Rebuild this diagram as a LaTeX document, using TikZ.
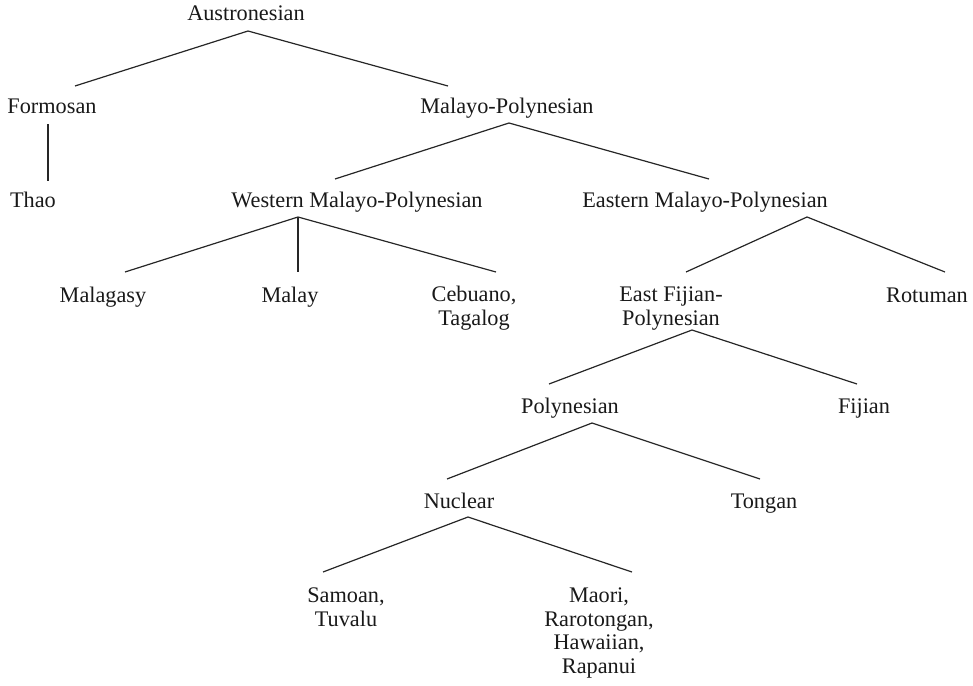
\documentclass[tikz,border=0pt]{standalone}
\usepackage{fontspec}
\setmainfont{Liberation Serif}
\begin{document}
\begin{tikzpicture}[x=0.75pt,y=-0.75pt,
  lang/.style={anchor=base,inner sep=0pt,align=center,text=black!90,
    font=\fontsize{16.7pt}{17.6pt}\selectfont},
  branch/.style={draw=black!85,line width=0.9pt}]
\useasboundingbox (0,0) rectangle (973,685);

% language names (multi-line names are placed by their last baseline)
\node[lang] (austr) at (246,21) {Austronesian};
\node[lang] (form)  at (52,113) {Formosan};
\node[lang] (mp)    at (507,113) {Malayo-Polynesian};
\node[lang] (thao)  at (33,207) {Thao};
\node[lang] (wmp)   at (357,207) {Western Malayo-Polynesian};
\node[lang] (emp)   at (705,207) {Eastern Malayo-Polynesian};
\node[lang] (mlg)   at (103,302) {Malagasy};
\node[lang] (malay) at (290,302) {Malay};
\node[lang] (ceb)   at (474,325) {Cebuano,\\Tagalog};
\node[lang] (efp)   at (671,325) {East Fijian-\\Polynesian};
\node[lang] (rot)   at (927,302) {Rotuman};
\node[lang] (poly)  at (570,413) {Polynesian};
\node[lang] (fij)   at (864,413) {Fijian};
\node[lang] (nuc)   at (459,508) {Nuclear};
\node[lang] (ton)   at (764,508) {Tongan};
\node[lang] (sam)   at (346,626) {Samoan,\\Tuvalu};
\node[lang] (mao)   at (599,673) {Maori,\\Rarotongan,\\Hawaiian,\\Rapanui};

% branch points under each parent and tops of the children
\coordinate (austr-b) at (248,31);
\coordinate (form-t)  at (75,86);
\coordinate (mp-t)    at (448,86);
\coordinate (form-b)  at (48,124);
\coordinate (thao-t)  at (48,181);
\coordinate (mp-b)    at (509,123);
\coordinate (wmp-t)   at (335,179);
\coordinate (emp-t)   at (709,179);
\coordinate (wmp-b)   at (298,217);
\coordinate (mlg-t)   at (125,272);
\coordinate (malay-t) at (298,272);
\coordinate (ceb-t)   at (496,272);
\coordinate (emp-b)   at (807,217);
\coordinate (efp-t)   at (686,272);
\coordinate (rot-t)   at (945,272);
\coordinate (efp-b)   at (692,330);
\coordinate (poly-t)  at (549,384);
\coordinate (fij-t)   at (857,384);
\coordinate (poly-b)  at (592,423);
\coordinate (nuc-t)   at (447,479);
\coordinate (ton-t)   at (760,479);
\coordinate (nuc-b)   at (468,517);
\coordinate (sam-t)   at (323,572);
\coordinate (mao-t)   at (632,572);

% tree branches
\draw[branch] (form-t) -- (austr-b) -- (mp-t);
\draw[branch] (form-b) -- (thao-t);
\draw[branch] (wmp-t) -- (mp-b) -- (emp-t);
\draw[branch] (mlg-t) -- (wmp-b) -- (ceb-t);
\draw[branch] (wmp-b) -- (malay-t);
\draw[branch] (efp-t) -- (emp-b) -- (rot-t);
\draw[branch] (poly-t) -- (efp-b) -- (fij-t);
\draw[branch] (nuc-t) -- (poly-b) -- (ton-t);
\draw[branch] (sam-t) -- (nuc-b) -- (mao-t);
\end{tikzpicture}
\end{document}
